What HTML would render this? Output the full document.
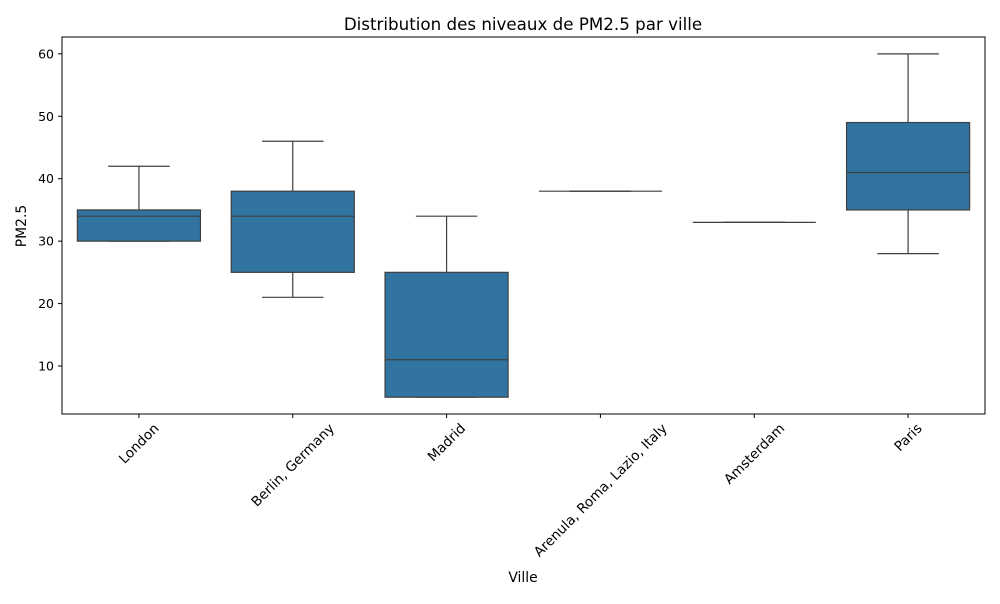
<!DOCTYPE html>
<html><head><meta charset="utf-8"><style>
body{margin:0;background:#fff;font-family:"DejaVu Sans","Liberation Sans",sans-serif}
svg{font-family:"DejaVu Sans","Liberation Sans",sans-serif}
</style></head><body>
<svg id="chart" width="1000" height="600" xmlns="http://www.w3.org/2000/svg">
<text x="523" y="30" text-anchor="middle" font-size="16.7" fill="#000">Distribution des niveaux de PM2.5 par ville</text>
<g id="plot"></g>
<text x="523" y="582" text-anchor="middle" font-size="13.9">Ville</text>
<text transform="translate(26,226) rotate(-90)" text-anchor="middle" font-size="13.9">PM2.5</text>
</svg>
<script>
const categories=["London","Berlin, Germany","Madrid","Arenula, Roma, Lazio, Italy","Amsterdam","Paris"];
const mins=[30,21,5,38,33,28];
const q1s=[30,25,5,38,33,35];
const medians=[34,34,11,38,33,41];
const q3s=[35,38,25,38,33,49];
const maxs=[42,46,34,38,33,60];
const yTicks=[10,20,30,40,50,60];
const L=62,R=985,T=37,B=414,yMin=2.31,yMax=62.7;
const ns="http://www.w3.org/2000/svg";
const g=document.getElementById('plot');
const y=v=>B-(v-yMin)/(yMax-yMin)*(B-T);
const step=(R-L)/categories.length;
const x=i=>L+step*(i+0.5);
function mk(t,a,p){const e=document.createElementNS(ns,t);for(const k in a)e.setAttribute(k,a[k]);(p||g).appendChild(e);return e;}
const frame=mk('rect',{x:L,y:T,width:R-L,height:B-T,fill:'none',stroke:'#000','stroke-width':1});


yTicks.forEach(v=>{
 const tk=mk('line',{x1:L-4,x2:L,y1:y(v),y2:y(v),stroke:'#000'});
 
 
 const t=mk('text',{x:L-8,y:y(v)+4.5,'text-anchor':'end','font-size':12.5});
 t.textContent=v;
 
 
});
const bw=step*0.8,cw=bw/2,lc='#3f3f3f';
categories.forEach((c,i)=>{
 const cx=x(i);
 const grp=mk('g',{});
 
 
 mk('line',{x1:cx,x2:cx,y1:y(q3s[i]),y2:y(maxs[i]),stroke:lc,'stroke-width':1.2},grp);
 mk('line',{x1:cx,x2:cx,y1:y(q1s[i]),y2:y(mins[i]),stroke:lc,'stroke-width':1.2},grp);
 mk('line',{x1:cx-cw/2,x2:cx+cw/2,y1:y(maxs[i]),y2:y(maxs[i]),stroke:lc,'stroke-width':1.2},grp);
 mk('line',{x1:cx-cw/2,x2:cx+cw/2,y1:y(mins[i]),y2:y(mins[i]),stroke:lc,'stroke-width':1.2},grp);
 mk('rect',{x:cx-bw/2,y:y(q3s[i]),width:bw,height:Math.max(0,y(q1s[i])-y(q3s[i])),fill:'#3274a1',stroke:lc,'stroke-width':1.2},grp);
 mk('line',{x1:cx-bw/2,x2:cx+bw/2,y1:y(medians[i]),y2:y(medians[i]),stroke:lc,'stroke-width':1.2},grp);
 const tk=mk('line',{x1:cx,x2:cx,y1:B,y2:B+4,stroke:'#000'});
 
 
 const t=mk('text',{x:0,y:4.5,'text-anchor':'middle','font-size':13.6});
 t.textContent=c;
 const w=t.getComputedTextLength(),h=14;
 const cy=B+7+(w+h)*0.7071/2;
 t.setAttribute('transform',`translate(${cx},${cy}) rotate(-45)`);
 
 
});
</script>
</body></html>
